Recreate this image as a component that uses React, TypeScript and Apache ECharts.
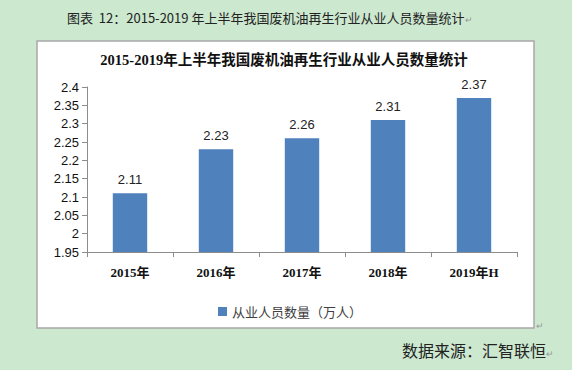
import React, { useEffect, useRef } from "react";
import * as echarts from "echarts";

const categories = ["2015年", "2016年", "2017年", "2018年", "2019年H"];
const values = [2.11, 2.23, 2.26, 2.31, 2.37];
const seriesName = "从业人员数量（万人）";
const outerTitle = "图表  12：2015-2019 年上半年我国废机油再生行业从业人员数量统计";
const innerTitle = "2015-2019年上半年我国废机油再生行业从业人员数量统计";
const sourceText = "数据来源：汇智联恒";

export default function App() {
  const ref = useRef<HTMLDivElement>(null);
  useEffect(() => {
    const chart = echarts.init(ref.current!, null, { renderer: "svg" });
    const cjk = "'Noto Sans CJK SC', sans-serif";
    chart.setOption({
      animation: false,
      backgroundColor: "#cce8cf",
      graphic: [
        {
          type: "rect",
          shape: { x: 37, y: 41, width: 497, height: 287 },
          style: { fill: "#ffffff", stroke: "#a8a8a8", lineWidth: 1.5 },
          z: -10,
        },
        {
          type: "text",
          x: 67,
          y: 17,
          style: {
            text: "{t|" + outerTitle + "}{r|↵}",
            verticalAlign: "middle",
            rich: {
              t: { font: "13px " + cjk, fill: "#222", verticalAlign: "middle" },
              r: { font: "9px " + cjk, fill: "#999", verticalAlign: "bottom", padding: [0, 0, 0, 1] },
            },
          },
        },
        {
          type: "text",
          x: 284,
          y: 60,
          style: {
            text: innerTitle,
            font: "bold 14.5px 'Liberation Serif', 'Noto Sans CJK SC'",
            fill: "#111",
            align: "center",
            verticalAlign: "middle",
          },
        },
        {
          type: "text",
          x: 536,
          y: 325,
          style: { text: "↵", font: "9px " + cjk, fill: "#999", verticalAlign: "middle" },
        },
        {
          type: "text",
          x: 402,
          y: 350,
          style: {
            text: "{t|" + sourceText + "}{r|↵}",
            verticalAlign: "middle",
            rich: {
              t: { font: "16px " + cjk, fill: "#222", verticalAlign: "middle" },
              r: { font: "9px " + cjk, fill: "#999", verticalAlign: "bottom" },
            },
          },
        },
      ],
      legend: {
        data: [seriesName],
        left: 213,
        top: 300,
        itemWidth: 9,
        itemHeight: 9,
        itemGap: 4,
        icon: "rect",
        textStyle: { fontSize: 13, color: "#404040", fontFamily: "Noto Sans CJK SC" },
      },
      grid: { left: 87, right: 55, top: 87, bottom: 118, containLabel: false },
      xAxis: {
        type: "category",
        data: categories,
        axisLine: { lineStyle: { color: "#8c8c8c" } },
        axisTick: { show: true, length: 5, lineStyle: { color: "#8c8c8c" } },
        axisLabel: {
          margin: 14,
          fontSize: 13,
          fontWeight: "bold",
          color: "#111",
          fontFamily: "'Liberation Serif', 'Noto Sans CJK SC'",
        },
      },
      yAxis: {
        type: "value",
        min: 1.95,
        max: 2.4,
        interval: 0.05,
        splitLine: { show: false },
        axisLine: { show: true, lineStyle: { color: "#8c8c8c" } },
        axisTick: { show: true, length: 5, lineStyle: { color: "#8c8c8c" } },
        axisLabel: {
          margin: 8,
          fontSize: 13,
          color: "#111",
          fontFamily: "'Liberation Sans', sans-serif",
          formatter: (v: number) => String(Number(v.toFixed(2))),
        },
      },
      series: [
        {
          name: seriesName,
          type: "bar",
          data: values,
          barWidth: "40%",
          itemStyle: { color: "#4f81bd" },
          label: {
            show: true,
            position: "top",
            distance: 7,
            fontSize: 13,
            color: "#222",
            fontFamily: "'Liberation Sans', sans-serif",
          },
        },
      ],
    });
    return () => chart.dispose();
  }, []);
  return (
    <div style={{ position: "fixed", left: 0, top: 0, width: 572, height: 370 }}>
      <div ref={ref} style={{ width: 572, height: 370 }} />
    </div>
  );
}
